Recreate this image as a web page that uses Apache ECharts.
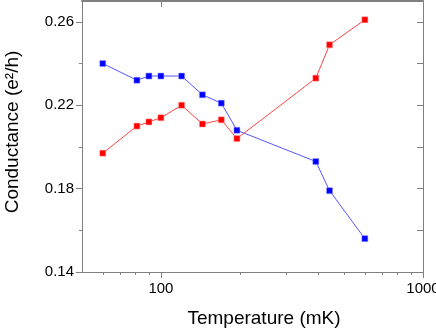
<!DOCTYPE html>
<html>
<head>
<meta charset="utf-8">
<script src="https://cdn.jsdelivr.net/npm/echarts@6/dist/echarts.min.js"></script>
<style>
html, body { margin: 0; padding: 0; background: #fff; }
#chart { width: 436px; height: 332px; }
</style>
</head>
<body>
<div id="chart"></div>
<script>
// temperature (mK)
var temps = [60, 81, 90, 100, 120, 144, 170, 195, 390, 440, 600];
var blueVals = [0.240, 0.232, 0.234, 0.234, 0.234, 0.225, 0.221, 0.208, 0.193, 0.179, 0.156];
var redVals = [0.197, 0.210, 0.212, 0.214, 0.220, 0.211, 0.213, 0.204, 0.233, 0.249, 0.261];
var xMajor = [100, 1000];
var xMinor = [60, 70, 80, 90, 200, 300, 400, 500, 600, 700, 800, 900];
var yMajor = [0.14, 0.18, 0.22, 0.26];
var yMinor = [0.16, 0.20, 0.24];
var yAll = [0.14, 0.16, 0.18, 0.20, 0.22, 0.24, 0.26];

function pairs(xs, ys) {
	var out = [];
	for(var i = 0; i < xs.length; i++) {
		out.push([xs[i], ys[i]]);
	}
	return out;
}

var axisColor = '#808080';
var font = 'Liberation Sans, Arial, sans-serif';

var myChart = echarts.init(document.getElementById('chart'));
var option = {
	animation: false,
	grid: {
		left: 82,
		right: 13,
		top: 1,
		bottom: 60,
		containLabel: false,
		outerBoundsMode: 'none'
	},
	xAxis: [{
			type: 'log',
			logBase: 10,
			min: 50,
			max: 1000,
			position: 'bottom',
			name: 'Temperature (mK)',
			nameLocation: 'middle',
			nameGap: 37,
			nameTextStyle: {
				color: '#000',
				fontSize: 19,
				fontFamily: font,
				padding: [0, 0, 0, 23]
			},
			axisLine: { lineStyle: { color: axisColor, width: 1 } },
			axisTick: { length: 6, customValues: xMajor, lineStyle: { color: axisColor } },
			axisLabel: {
				customValues: xMajor,
				color: '#000',
				fontSize: 15,
				fontFamily: font,
				margin: 9,
				formatter: function(v) { return String(Math.round(v)); }
			},
			splitLine: { show: false },
			minorTick: { show: false }
		},
		{
			type: 'log',
			logBase: 10,
			min: 50,
			max: 1000,
			position: 'bottom',
			axisLine: { show: false },
			axisTick: { length: 3, customValues: xMinor, lineStyle: { color: axisColor } },
			axisLabel: { show: false },
			splitLine: { show: false }
		},
		{
			type: 'log',
			logBase: 10,
			min: 50,
			max: 1000,
			position: 'top',
			axisLine: { lineStyle: { color: axisColor, width: 2 } },
			axisTick: { inside: true, length: 6, customValues: xMajor, lineStyle: { color: axisColor } },
			axisLabel: { show: false },
			splitLine: { show: false }
		}
	],
	yAxis: [{
			type: 'value',
			min: 0.14,
			max: 0.27,
			position: 'left',
			name: 'Conductance (e²/h)',
			nameLocation: 'middle',
			nameGap: 60,
			nameTextStyle: {
				color: '#000',
				fontSize: 19,
				fontFamily: font,
				padding: [0, 0, 0, 9]
			},
			axisLine: { show: true, lineStyle: { color: axisColor, width: 1 } },
			axisTick: { show: true, length: 6, customValues: yMajor, lineStyle: { color: axisColor } },
			axisLabel: {
				customValues: yMajor,
				color: '#000',
				fontSize: 15,
				fontFamily: font,
				margin: 8,
				formatter: function(v) { return v.toFixed(2); }
			},
			splitLine: { show: false }
		},
		{
			type: 'value',
			min: 0.14,
			max: 0.27,
			position: 'left',
			axisLine: { show: false },
			axisTick: { show: true, length: 3, customValues: yMinor, lineStyle: { color: axisColor } },
			axisLabel: { show: false },
			splitLine: { show: false }
		},
		{
			type: 'value',
			min: 0.14,
			max: 0.27,
			position: 'right',
			axisLine: { show: true, lineStyle: { color: axisColor, width: 1 } },
			axisTick: { show: true, inside: true, length: 6, customValues: yAll, lineStyle: { color: axisColor } },
			axisLabel: { show: false },
			splitLine: { show: false }
		}
	],
	series: [{
			name: 'blue',
			type: 'line',
			data: pairs(temps, blueVals),
			symbol: 'rect',
			symbolSize: 6,
			itemStyle: { color: '#0000ff', borderColor: '#9999ff', borderWidth: 0.5 },
			lineStyle: { color: '#5555ff', width: 1 }
		},
		{
			name: 'red',
			type: 'line',
			data: pairs(temps, redVals),
			symbol: 'rect',
			symbolSize: 6,
			itemStyle: { color: '#ff0000', borderColor: '#ff9999', borderWidth: 0.5 },
			lineStyle: { color: '#ff4444', width: 1 }
		}
	]
};
myChart.setOption(option);
</script>
</body>
</html>
